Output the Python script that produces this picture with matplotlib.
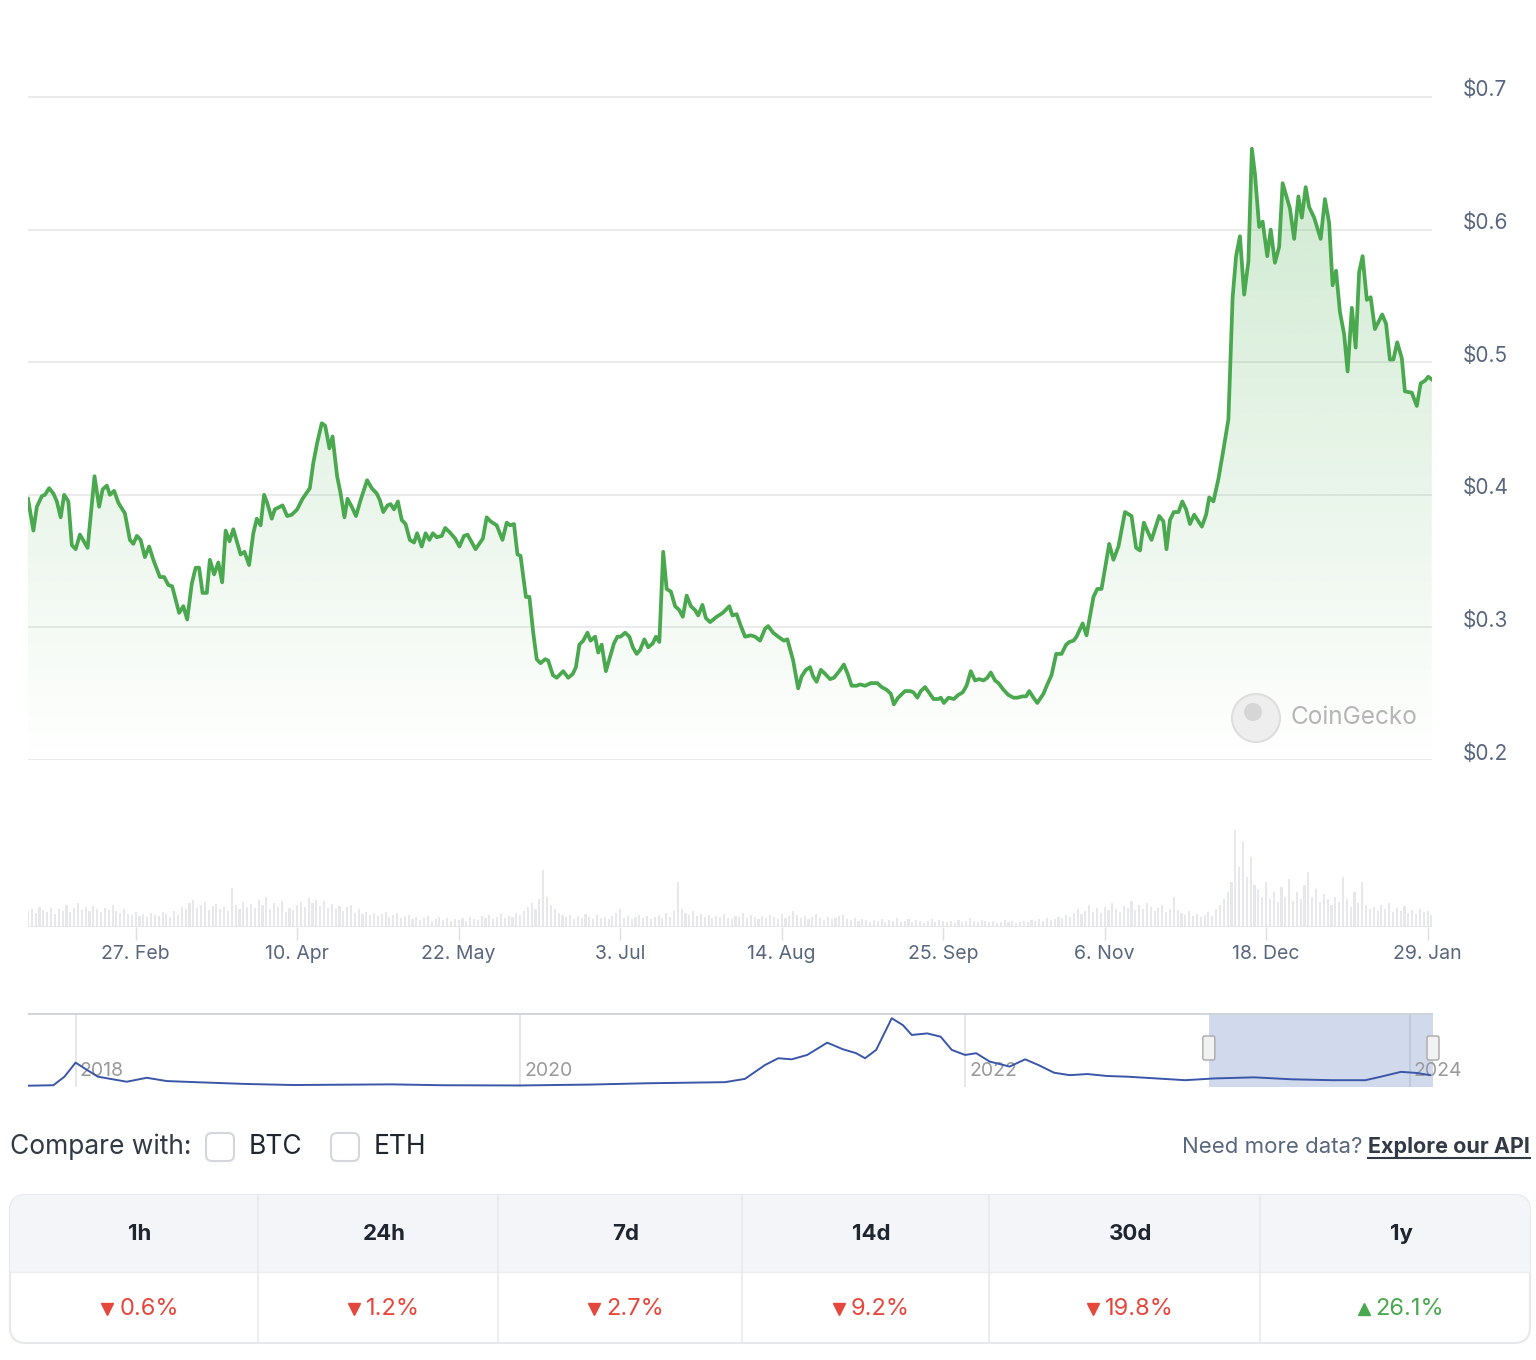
import matplotlib
matplotlib.use("Agg")
import matplotlib.pyplot as plt
import numpy as np
from matplotlib.patches import Polygon, FancyBboxPatch, Rectangle, Circle
from matplotlib.lines import Line2D
from matplotlib.transforms import IdentityTransform, ScaledTranslation

plt.rcParams["font.family"] = ["Inter", "DejaVu Sans"]

# price (USD), days since 30 Jan 2023
DAYS = [
    0.0, 1.4, 2.3, 3.6, 4.4, 5.5, 6.6, 7.5, 8.5, 9.4, 10.5, 11.4, 12.4, 13.5, 15.5,
    17.3, 18.5, 19.4, 20.5, 21.3, 22.4, 23.5, 25.2, 26.5, 27.4, 28.3, 29.3, 30.4,
    31.5, 32.6, 34.3, 35.4, 36.5, 37.5, 39.3, 40.4, 41.4, 42.6, 43.6, 44.5, 45.4,
    46.5, 47.3, 48.4, 49.5, 50.5, 51.4, 52.4, 53.4, 55.3, 56.3, 57.5, 58.6, 59.5,
    60.5, 61.4, 62.2, 63.4, 64.2, 66.2, 67.4, 68.6, 70.0, 71.4, 73.3, 74.2, 75.2,
    76.4, 77.3, 78.4, 79.2, 80.4, 81.3, 82.3, 83.1, 84.2, 85.3, 86.5, 88.2, 89.4,
    90.7, 91.5, 92.4, 93.5, 94.3, 95.2, 96.2, 97.2, 98.2, 99.3, 100.4, 101.2,
    102.4, 103.4, 104.4, 105.3, 106.3, 107.6, 108.5, 109.6, 111.1, 112.2, 113.4,
    114.3, 116.4, 118.3, 119.3, 120.3, 121.9, 123.4, 124.5, 125.4, 126.4, 127.3,
    128.1, 129.5, 130.4, 131.4, 132.3, 133.3, 134.5, 135.3, 136.5, 137.5, 139.2,
    140.5, 141.7, 142.5, 143.4, 144.4, 145.5, 146.3, 147.5, 148.3, 149.2, 150.3,
    151.4, 152.4, 153.3, 154.1, 155.3, 156.4, 157.3, 158.3, 159.2, 160.3, 161.3,
    162.5, 163.3, 164.2, 165.2, 166.1, 167.2, 168.3, 169.4, 170.3, 171.3, 172.4,
    173.5, 174.3, 175.4, 176.3, 177.4, 179.1, 180.7, 182.4, 183.2, 184.3, 185.4,
    186.5, 188.0, 189.1, 190.4, 191.7, 192.5, 193.8, 195.1, 196.6, 197.5, 199.0,
    200.3, 201.2, 202.3, 203.4, 204.2, 205.1, 206.2, 207.3, 208.6, 209.6, 211.0,
    212.2, 213.3, 214.2, 215.5, 216.4, 217.7, 219.2, 220.9, 222.0, 223.3, 224.4,
    225.2, 226.3, 228.1, 229.4, 230.3, 231.3, 232.2, 233.3, 234.3, 235.5, 236.8,
    237.4, 238.2, 239.4, 240.8, 241.9, 243.1, 244.1, 245.2, 246.3, 247.4, 248.5,
    249.5, 250.4, 251.5, 252.4, 253.7, 255.0, 256.3, 257.3, 258.7, 259.6, 260.4,
    261.5, 262.5, 264.1, 265.1, 266.2, 267.4, 268.8, 270.0, 270.8, 271.9, 272.7,
    274.3, 275.3, 277.1, 278.1, 279.2, 281.2, 282.3, 283.6, 285.3, 287.0, 288.2,
    289.2, 290.2, 291.4, 292.2, 294.2, 295.3, 296.1, 297.0, 298.0, 299.2, 300.2,
    301.2, 302.2, 303.3, 305.3, 306.4, 307.2, 308.3, 309.6, 310.9, 312.2, 313.3,
    314.2, 315.2, 316.3, 317.4, 318.3, 319.1, 320.2, 321.1, 322.3, 323.2, 324.3,
    325.4, 326.3, 327.4, 328.2, 329.3, 330.4, 331.3, 332.3, 333.2, 334.5, 336.2,
    337.3, 338.4, 339.3, 340.2, 341.2, 342.3, 343.2, 344.3, 345.3, 346.2, 347.1,
    348.2, 349.2, 350.3, 352.2, 353.2, 354.2, 355.1, 356.1, 357.3, 358.1, 359.9,
    361.2, 362.2, 363.3, 364.2, 365.1,
]
PRICE = [
    0.397, 0.373, 0.391, 0.399, 0.400, 0.405, 0.401, 0.395, 0.383, 0.400, 0.395,
    0.362, 0.359, 0.370, 0.360, 0.414, 0.391, 0.404, 0.407, 0.400, 0.403, 0.394,
    0.386, 0.366, 0.363, 0.369, 0.366, 0.353, 0.361, 0.351, 0.338, 0.338, 0.332,
    0.331, 0.311, 0.316, 0.306, 0.333, 0.345, 0.345, 0.326, 0.326, 0.351, 0.340,
    0.349, 0.334, 0.373, 0.365, 0.374, 0.355, 0.357, 0.347, 0.371, 0.382, 0.377,
    0.400, 0.394, 0.382, 0.389, 0.392, 0.384, 0.385, 0.389, 0.397, 0.405, 0.424,
    0.439, 0.454, 0.452, 0.435, 0.444, 0.414, 0.401, 0.383, 0.397, 0.391, 0.384,
    0.396, 0.411, 0.405, 0.401, 0.396, 0.387, 0.392, 0.393, 0.389, 0.395, 0.381,
    0.378, 0.366, 0.364, 0.371, 0.361, 0.371, 0.366, 0.371, 0.368, 0.369, 0.375,
    0.372, 0.367, 0.361, 0.369, 0.370, 0.359, 0.367, 0.383, 0.380, 0.377, 0.366,
    0.379, 0.377, 0.378, 0.355, 0.354, 0.323, 0.323, 0.296, 0.276, 0.273, 0.276,
    0.275, 0.264, 0.262, 0.267, 0.262, 0.265, 0.270, 0.287, 0.290, 0.296, 0.290,
    0.293, 0.281, 0.287, 0.267, 0.278, 0.288, 0.293, 0.293, 0.296, 0.293, 0.285,
    0.280, 0.283, 0.291, 0.285, 0.288, 0.293, 0.289, 0.357, 0.329, 0.327, 0.316,
    0.313, 0.308, 0.324, 0.316, 0.313, 0.309, 0.317, 0.307, 0.304, 0.308, 0.311,
    0.316, 0.309, 0.310, 0.301, 0.293, 0.294, 0.293, 0.290, 0.299, 0.301, 0.296,
    0.293, 0.290, 0.291, 0.275, 0.254, 0.263, 0.268, 0.270, 0.263, 0.259, 0.268,
    0.265, 0.261, 0.262, 0.267, 0.272, 0.264, 0.256, 0.256, 0.257, 0.256, 0.258,
    0.258, 0.255, 0.253, 0.250, 0.242, 0.247, 0.252, 0.252, 0.251, 0.247, 0.252,
    0.255, 0.251, 0.246, 0.246, 0.247, 0.243, 0.247, 0.246, 0.249, 0.251, 0.256,
    0.267, 0.260, 0.261, 0.260, 0.262, 0.266, 0.260, 0.258, 0.253, 0.249, 0.247,
    0.247, 0.248, 0.248, 0.252, 0.247, 0.243, 0.250, 0.257, 0.264, 0.280, 0.280,
    0.287, 0.289, 0.290, 0.293, 0.303, 0.294, 0.323, 0.329, 0.329, 0.363, 0.351,
    0.361, 0.387, 0.384, 0.360, 0.358, 0.379, 0.371, 0.366, 0.384, 0.380, 0.359,
    0.381, 0.387, 0.387, 0.395, 0.389, 0.378, 0.385, 0.376, 0.385, 0.398, 0.395,
    0.412, 0.434, 0.457, 0.549, 0.580, 0.595, 0.551, 0.576, 0.661, 0.642, 0.602,
    0.606, 0.580, 0.600, 0.575, 0.587, 0.635, 0.624, 0.616, 0.593, 0.625, 0.609,
    0.632, 0.617, 0.609, 0.593, 0.623, 0.605, 0.558, 0.569, 0.538, 0.521, 0.493,
    0.541, 0.511, 0.568, 0.580, 0.547, 0.549, 0.525, 0.536, 0.529, 0.502, 0.502,
    0.515, 0.503, 0.478, 0.477, 0.467, 0.484, 0.486, 0.489, 0.487,
]

# daily volume (relative units), one bar per day from 30 Jan 2023
VOLUME = [
    16, 18, 14, 20, 17, 15, 19, 13, 18, 16, 22, 15, 19, 24, 17, 20, 16, 21, 18, 15,
    19, 17, 22, 16, 14, 18, 13, 12, 15, 11, 13, 10, 14, 12, 11, 15, 13, 10, 16, 12,
    20, 18, 24, 27, 19, 22, 25, 17, 21, 23, 18, 20, 16, 39, 22, 18, 25, 20, 23, 19,
    27, 22, 30, 18, 24, 20, 26, 15, 19, 17, 22, 25, 20, 29, 24, 27, 21, 26, 19, 23,
    18, 21, 16, 20, 22, 14, 18, 13, 15, 12, 14, 11, 13, 15, 10, 12, 14, 9, 11, 12,
    8, 10, 7, 9, 11, 6, 8, 10, 7, 9, 6, 8, 7, 9, 6, 10, 8, 7, 11, 9,
    12, 8, 10, 13, 9, 11, 10, 14, 12, 16, 20, 24, 18, 28, 57, 30, 22, 18, 14, 12,
    10, 12, 8, 11, 9, 13, 10, 8, 12, 9, 10, 8, 11, 14, 18, 9, 11, 8, 10, 12,
    9, 11, 8, 10, 12, 9, 14, 10, 16, 45, 18, 14, 12, 16, 11, 13, 10, 12, 9, 11,
    10, 13, 9, 8, 11, 10, 14, 9, 12, 10, 8, 11, 9, 12, 10, 8, 13, 9, 11, 16,
    12, 9, 11, 8, 10, 13, 9, 7, 10, 8, 9, 11, 12, 8, 7, 9, 6, 8, 7, 5,
    7, 6, 8, 5, 7, 6, 9, 5, 6, 8, 5, 7, 6, 4, 6, 8, 5, 7, 6, 5,
    6, 4, 7, 5, 6, 9, 6, 5, 7, 6, 5, 6, 4, 5, 7, 5, 6, 4, 5, 6,
    5, 7, 6, 8, 6, 9, 7, 8, 10, 9, 12, 10, 14, 18, 13, 16, 22, 15, 19, 14,
    20, 17, 24, 18, 15, 21, 19, 26, 17, 22, 18, 24, 20, 16, 19, 22, 15, 18, 30, 17,
    14, 12, 16, 11, 13, 10, 12, 15, 11, 18, 22, 28, 35, 45, 97, 60, 85, 50, 70, 42,
    38, 30, 45, 28, 35, 25, 40, 30, 48, 26, 35, 28, 42, 55, 30, 38, 25, 33, 28, 22,
    30, 25, 50, 28, 20, 35, 24, 45, 22, 18, 20, 16, 22, 18, 24, 15, 19, 16, 21, 14,
    17, 13, 18, 15, 16, 12,
]

TICK_DAYS = [28, 70, 112, 154, 196, 238, 280, 322, 364]
TICK_LABELS = ["27. Feb", "10. Apr", "22. May", "3. Jul", "14. Aug",
               "25. Sep", "6. Nov", "18. Dec", "29. Jan"]
PRICE_TICKS = [0.2, 0.3, 0.4, 0.5, 0.6, 0.7]

# all-time history for the navigator (decimal year, USD)
NAV_YEARS = [
    2017.79, 2017.90, 2017.95, 2018.00, 2018.04, 2018.10, 2018.23, 2018.32, 2018.41,
    2018.54, 2018.76, 2018.98, 2019.42, 2019.65, 2020.00, 2020.31, 2020.57, 2020.92,
    2021.01, 2021.10, 2021.16, 2021.22, 2021.29, 2021.38, 2021.45, 2021.51, 2021.55,
    2021.60, 2021.67, 2021.72, 2021.76, 2021.83, 2021.89, 2021.94, 2022.00, 2022.05,
    2022.11, 2022.20, 2022.27, 2022.33, 2022.40, 2022.47, 2022.55, 2022.64, 2022.73,
    2022.86, 2022.99, 2023.12, 2023.30, 2023.47, 2023.65, 2023.80, 2023.87, 2023.96,
    2024.03, 2024.09,
]
NAV_PRICE = [
    0.02, 0.04, 0.43, 1.07, 0.81, 0.43, 0.20, 0.38, 0.23, 0.18, 0.10, 0.05, 0.08,
    0.04, 0.03, 0.07, 0.13, 0.18, 0.33, 0.96, 1.27, 1.22, 1.42, 1.98, 1.68, 1.50,
    1.27, 1.65, 3.09, 2.78, 2.33, 2.40, 2.25, 1.65, 1.42, 1.50, 1.12, 0.89, 1.22,
    0.96, 0.61, 0.50, 0.55, 0.46, 0.43, 0.35, 0.27, 0.35, 0.40, 0.31, 0.27, 0.27,
    0.43, 0.65, 0.60, 0.50,
]
NAV_TICK_YEARS = [2018, 2020, 2022, 2024]
SELECTION = (2023.096, 2024.104)

PERIODS = ["1h", "24h", "7d", "14d", "30d", "1y"]
CHANGES = [-0.6, -1.2, -2.7, -9.2, -19.8, 26.1]

W, H = 1536, 1360
GREEN = "#4aa84f"
RED = "#e5473c"
MUTED = "#58667e"
DARK = "#1f2630"


def px(x, y):
    """image pixel (top-left origin) to display coords"""
    return x, H - y


def main():
    fig = plt.figure(figsize=(W / 100, H / 100), dpi=100)
    fig.patch.set_facecolor("white")
    ident = IdentityTransform()

    # main price chart
    ax = fig.add_axes([28 / W, (H - 760) / H, 1404 / W, 700 / H])
    ax.set_xlim(0, 365.15)
    ax.set_ylim(0.2, 0.2 + 700 / 1326)
    for s in ax.spines.values():
        s.set_visible(False)
    ax.set_xticks([])
    ax.set_yticks(PRICE_TICKS)
    ax.tick_params(axis="y", length=0, labelleft=False, labelright=False)
    ax.grid(axis="y", color="#e8e8e8", lw=1.2)
    ax.set_axisbelow(True)

    x = np.array(DAYS)
    y = np.array(PRICE)
    verts = np.column_stack([np.r_[x[0], x, x[-1]], np.r_[0.2, y, 0.2]])
    poly = Polygon(verts, closed=True, facecolor="none", edgecolor="none")
    ax.add_patch(poly)
    n = 256
    grad = np.zeros((n, 1, 4))
    grad[..., 0] = 76 / 255
    grad[..., 1] = 175 / 255
    grad[..., 2] = 80 / 255
    grad[:, 0, 3] = np.linspace(0.0, 0.27, n)
    im = ax.imshow(grad, extent=[x[0], x[-1], 0.2, y.max()], origin="lower",
                   aspect="auto", zorder=1, interpolation="bilinear")
    im.set_clip_path(poly)
    ax.plot(x, y, color=GREEN, lw=2.7, zorder=3, solid_joinstyle="round")

    off = ScaledTranslation(0.31, 0.065, fig.dpi_scale_trans)
    for v in PRICE_TICKS:
        ax.text(1.0, v, f"${v:.1f}", transform=ax.get_yaxis_transform() + off,
                ha="left", va="center", fontsize=15, color=MUTED)

    # watermark
    fig.add_artist(Circle(px(1256, 718), 24, transform=ident, facecolor="#eeeeee",
                          edgecolor="#dedede", lw=1.5))
    fig.add_artist(Circle(px(1253, 712), 9, transform=ident, facecolor="#d6d6d6",
                          edgecolor="none"))
    fig.text(*px(1290, 718), "CoinGecko", transform=ident, fontsize=17.5,
             color="#b5b5b5", ha="left", va="center")

    # volume
    axv = fig.add_axes([28 / W, (H - 927) / H, 1404 / W, 107 / H])
    axv.bar(np.arange(len(VOLUME)), VOLUME, width=0.55, color="#e6e8eb")
    axv.set_xlim(0, 365.15)
    axv.set_ylim(0, 107)
    for s in axv.spines.values():
        s.set_visible(False)
    axv.axhline(0, color="#e2e4e8", lw=1.2)
    axv.set_yticks([])
    axv.set_xticks(TICK_DAYS)
    axv.set_xticklabels(TICK_LABELS)
    axv.tick_params(axis="x", length=9, width=1, color="#dcdfe4", pad=4,
                    labelsize=14, labelcolor=MUTED)

    # navigator
    axn = fig.add_axes([28 / W, (H - 1087) / H, 1405 / W, 74 / H])
    axn.set_xlim(2017.786, 2024.104)
    axn.set_ylim(-0.04, 3.33)
    for s in axn.spines.values():
        s.set_visible(False)
    axn.set_xticks([])
    axn.set_yticks([])
    for yr in NAV_TICK_YEARS:
        axn.axvline(yr, color="#e3e3e3", lw=1.2, zorder=0)
        axn.text(yr, 0.69, str(yr), fontsize=14, color="#9a9a9a", va="center",
                 ha="left", transform=axn.transData +
                 ScaledTranslation(0.04, 0, fig.dpi_scale_trans))
    axn.plot(NAV_YEARS, NAV_PRICE, color="#3a56a8", lw=1.4, zorder=3)
    axn.axvspan(*SELECTION, color="#6685c2", alpha=0.3, lw=0, zorder=2)
    axn.axhline(3.33, color="#cfd3da", lw=2)

    for sx in SELECTION:
        dx, _ = axn.transData.transform((sx, 0))
        _, top = px(0, 1036)
        h = FancyBboxPatch((dx - 6, top - 24), 12, 24, transform=ident,
                           boxstyle="round,pad=0,rounding_size=2",
                           facecolor="#f2f2f2", edgecolor="#a8a8a8", lw=1, zorder=5)
        fig.add_artist(h)
        for ox in (-2, 2):
            fig.add_artist(Line2D([dx + ox, dx + ox], [top - 18, top - 6],
                                  transform=ident, color="#a8a8a8", lw=1))

    # compare row
    fig.text(*px(10, 1147), "Compare with:", transform=ident, fontsize=19,
             color="#323a46", ha="left", va="center")
    for bx, lbl in ((206, "BTC"), (331, "ETH")):
        fig.add_artist(FancyBboxPatch(px(bx, 1161), 28, 28, transform=ident,
                                      boxstyle="round,pad=0,rounding_size=6",
                                      facecolor="white", edgecolor="#d3d7dd", lw=1.5))
        fig.text(*px(bx + 43, 1147), lbl, transform=ident, fontsize=19,
                 color=DARK, ha="left", va="center")

    renderer = fig.canvas.get_renderer()
    api = fig.text(*px(1530, 1147), "Explore our API", transform=ident,
                   fontsize=15.5, fontweight="bold", color="#323a46",
                   ha="right", va="center")
    ext = api.get_window_extent(renderer)
    fig.add_artist(Line2D([ext.x0, ext.x1], [ext.y0 - 1, ext.y0 - 1],
                          transform=ident, color="#323a46", lw=1.5))
    fig.text(ext.x0 - 6, H - 1147, "Need more data?", transform=ident,
             fontsize=16, color=MUTED, ha="right", va="center")

    # performance table
    tx0, tx1, ty0, ty1, hy = 10, 1530, 1195, 1343, 1272
    outer = FancyBboxPatch(px(tx0, ty1), tx1 - tx0, ty1 - ty0, transform=ident,
                           boxstyle="round,pad=0,rounding_size=16",
                           facecolor="white", edgecolor="#e6e8ec", lw=1.5, zorder=1)
    fig.add_artist(outer)
    head = FancyBboxPatch(px(tx0, ty1), tx1 - tx0, ty1 - ty0, transform=ident,
                          boxstyle="round,pad=0,rounding_size=16",
                          facecolor="#f3f5f9", edgecolor="none", zorder=2)
    clip = Rectangle(px(tx0 - 5, hy), tx1 - tx0 + 10, hy - ty0 + 5, transform=ident)
    fig.add_artist(head)
    head.set_clip_path(clip)
    fig.add_artist(Line2D([tx0 + 1, tx1 - 1], [H - hy, H - hy], transform=ident,
                          color="#eceef2", lw=1, zorder=3))
    edges = [tx0, 258, 498, 742, 989, 1260, tx1]
    for ex in edges[1:-1]:
        fig.add_artist(Line2D([ex, ex], [H - ty0, H - ty1], transform=ident,
                              color="#e8eaee", lw=1.2, zorder=3))
    for i, (per, chg) in enumerate(zip(PERIODS, CHANGES)):
        cx = (edges[i] + edges[i + 1]) / 2 + 6
        fig.text(*px(cx, 1234), per, transform=ident, fontsize=16,
                 fontweight="bold", color=DARK, ha="center", va="center", zorder=4)
        col = GREEN if chg > 0 else RED
        t = fig.text(0, H - 1309, f"{abs(chg):.1f}%", transform=ident, fontsize=17,
                     color=col, ha="left", va="center", zorder=4)
        tw = t.get_window_extent(renderer).width
        left = cx - (tw + 18) / 2
        t.set_x(left + 18)
        fig.add_artist(Line2D([left + 6], [H - 1309], transform=ident,
                              marker="^" if chg > 0 else "v", markersize=9,
                              color=col, lw=0, zorder=4))

    fig.savefig("out.png", dpi=100, facecolor="white")


if __name__ == "__main__":
    main()
